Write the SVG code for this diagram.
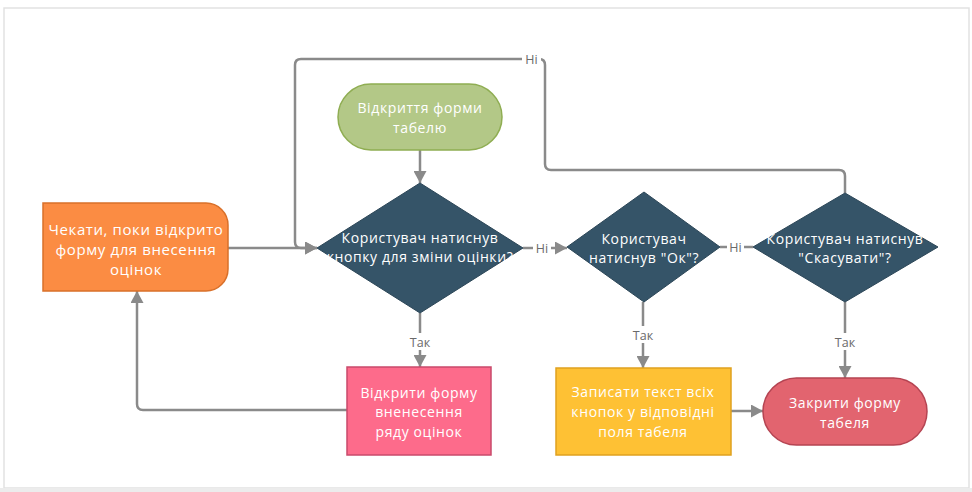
<svg xmlns="http://www.w3.org/2000/svg" width="972" height="492" viewBox="0 0 972 492">
  <defs>
    <marker id="arr" markerUnits="userSpaceOnUse" markerWidth="13" markerHeight="13" refX="12" refY="6.5" orient="auto">
      <path d="M0,0 L12,6.5 L0,13 Z" fill="#8a8a8a"/>
    </marker>
    <style>
      .t{font-family:"Open Sans","Liberation Sans",sans-serif;font-size:14px;letter-spacing:0.6px;fill:#ffffff;text-anchor:middle}
      .big{font-size:15px}
      .lbl{font-family:"Open Sans","Liberation Sans",sans-serif;font-size:12.5px;fill:#6a6a6a;text-anchor:middle}
      .c{fill:none;stroke:#8a8a8a;stroke-width:2.5;stroke-linejoin:round}
      .dia{fill:#355468;stroke:#2c4657;stroke-width:1}
      .bg{fill:#ffffff}
    </style>
  </defs>
  <rect x="0" y="0" width="972" height="492" fill="#ffffff"/>
  <rect x="4" y="8" width="965" height="480" fill="#ffffff" stroke="#e2e2e2" stroke-width="1.5"/>
  <rect x="0" y="488" width="972" height="4" fill="#ececec"/>

  <g id="connectors">
    <path class="c" d="M420,150 V183" marker-end="url(#arr)"/>
    <path class="c" d="M228,248 H317" marker-end="url(#arr)"/>
    <path class="c" d="M523,248 H567" marker-end="url(#arr)"/>
    <path class="c" d="M720,247 H753"/>
    <path class="c" d="M845,193 V176 Q845,170 839,170 H551 Q545,170 545,164 V65 Q545,59 539,59 H301 Q295,59 295,65 V242 Q295,248 301,248 H317" marker-end="url(#arr)"/>
    <path class="c" d="M420,313 V367" marker-end="url(#arr)"/>
    <path class="c" d="M643,302 V368" marker-end="url(#arr)"/>
    <path class="c" d="M845,302 V378" marker-end="url(#arr)"/>
    <path class="c" d="M347,410 H143 Q137,410 137,404 V291" marker-end="url(#arr)"/>
    <path class="c" d="M731,411 H763" marker-end="url(#arr)"/>

    <rect class="bg" x="533" y="240" width="18" height="16"/>
    <text class="lbl" x="542" y="252.5">Ні</text>
    <rect class="bg" x="727" y="239" width="17" height="16"/>
    <text class="lbl" x="735.5" y="251.5">Ні</text>
    <rect class="bg" x="522" y="51" width="19" height="16"/>
    <text class="lbl" x="531.5" y="63.5">Ні</text>
    <rect class="bg" x="406" y="333" width="28" height="17"/>
    <text class="lbl" x="420" y="346.5">Так</text>
    <rect class="bg" x="629" y="326" width="28" height="17"/>
    <text class="lbl" x="643" y="339.5">Так</text>
    <rect class="bg" x="831" y="333" width="28" height="17"/>
    <text class="lbl" x="845" y="346.5">Так</text>
  </g>

  <g id="start">
    <rect x="338" y="84" width="164" height="66" rx="33" fill="#b3c887" stroke="#8fad52" stroke-width="1.5"/>
    <text class="t" x="420" y="113">Відкриття форми</text>
    <text class="t" x="420" y="133">табелю</text>
  </g>

  <g id="wait">
    <path d="M43,203 H206 A22,22 0 0 1 228,225 V269 A22,22 0 0 1 206,291 H43 Z" fill="#fb8c43" stroke="#d9702a" stroke-width="1.5"/>
    <text class="t big" x="136" y="234.8">Чекати, поки відкрито</text>
    <text class="t big" x="136" y="254.8">форму для внесення</text>
    <text class="t big" x="136" y="274.8">оцінок</text>
  </g>

  <g id="decision1">
    <polygon class="dia" points="420,183 523,248 420,313 317,248"/>
    <text class="t" x="420" y="243.4">Користувач натиснув</text>
    <text class="t" x="420" y="262.4">кнопку для зміни оцінки?</text>
  </g>

  <g id="decision2">
    <polygon class="dia" points="644,192 720,247 644,302 567,247"/>
    <text class="t" x="644" y="243.9">Користувач</text>
    <text class="t" x="644" y="262.9">натиснув "Ок"?</text>
  </g>

  <g id="decision3">
    <polygon class="dia" points="845,193 938,247 845,302 753,247"/>
    <text class="t" x="845" y="243.9">Користувач натиснув</text>
    <text class="t" x="845" y="262.9">"Скасувати"?</text>
  </g>

  <g id="openRow">
    <rect x="347" y="367" width="144" height="88" fill="#fd6b8b" stroke="#c94a6b" stroke-width="1.5"/>
    <text class="t" x="419" y="397.9">Відкрити форму</text>
    <text class="t" x="419" y="417.4">вненесення</text>
    <text class="t" x="419" y="436.9">ряду оцінок</text>
  </g>

  <g id="write">
    <rect x="556" y="368" width="175" height="87" fill="#fec134" stroke="#dfa11f" stroke-width="1.5"/>
    <text class="t" x="643" y="396.9">Записати текст всіх</text>
    <text class="t" x="643" y="416.9">кнопок у відповідні</text>
    <text class="t" x="643" y="436.9">поля табеля</text>
  </g>

  <g id="close">
    <rect x="763" y="378" width="164" height="67" rx="33.5" fill="#e2646f" stroke="#b54452" stroke-width="1.5"/>
    <text class="t" x="845" y="407.9">Закрити форму</text>
    <text class="t" x="845" y="427.9">табеля</text>
  </g>
</svg>
